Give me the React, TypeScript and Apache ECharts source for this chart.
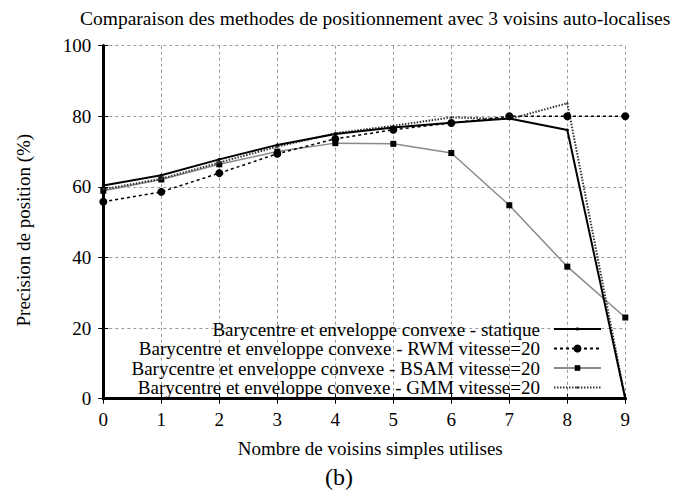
import React, { useEffect, useRef } from "react";
import * as echarts from "echarts";

const xValues = [0, 1, 2, 3, 4, 5, 6, 7, 8, 9];
const statique = [60.4, 63.3, 67.8, 71.9, 75.0, 76.8, 78.2, 79.4, 76.1, 0];
const rwm = [55.8, 58.6, 63.9, 69.4, 73.6, 76.2, 78.1, 80.0, 80.0, 80.0];
const bsam = [58.9, 62.1, 66.4, 70.0, 72.4, 72.2, 69.6, 54.8, 37.4, 23.0];
const gmm = [59.3, 62.3, 66.9, 71.4, 75.2, 77.3, 79.7, 79.2, 83.7, 0];

const seriesNames = [
  "Barycentre et enveloppe convexe - statique",
  "Barycentre et enveloppe convexe - RWM vitesse=20",
  "Barycentre et enveloppe convexe - BSAM vitesse=20",
  "Barycentre et enveloppe convexe - GMM vitesse=20",
];

const titleText = "Comparaison des methodes de positionnement avec 3 voisins auto-localises";
const xName = "Nombre de voisins simples utilises";
const yName = "Precision de position (%)";
const subLabel = "(b)";

const FONT = '"Liberation Serif", "Times New Roman", serif';

function pairs(ys: number[]) {
  return xValues.map((x, i) => [x, ys[i]]);
}

export default function App() {
  const ref = useRef<HTMLDivElement>(null);
  useEffect(() => {
    if (!ref.current) return;
    const chart = echarts.init(ref.current, undefined, { renderer: "svg" });
    const grid = { left: 103.3, right: 58.7, top: 45.7, bottom: 91.3 };
    const axisLineStyle = { show: true, lineStyle: { color: "#000", width: 3 } };
    const tick = { show: true, inside: true, length: 5, lineStyle: { color: "#000", width: 1 } };
    const gridLine = { show: true, lineStyle: { color: "#9a9a9a", width: 1, type: [3, 3] as any } };
    const legendRows = [329, 348.5, 368, 387.5];
    const legendItemH = [4, 10, 7, 3];
    const legends = seriesNames.map((n, i) => ({
      data: [n],
      orient: "horizontal",
      right: 82,
      top: legendRows[i] - 10,
      padding: 0,
      align: "right",
      itemWidth: 47,
      itemHeight: legendItemH[i],
      selectedMode: false,
      textStyle: {
        fontFamily: FONT,
        fontSize: 19,
        color: "#000",
        lineHeight: 20,
        padding: [0, 9, 0, 0],
      },
    }));
    chart.setOption({
      animation: false,
      backgroundColor: "#fff",
      title: {
        text: titleText,
        left: 75,
        top: 3,
        textStyle: { fontFamily: FONT, fontSize: 19.5, fontWeight: "normal", color: "#000" },
      },
      legend: legends,
      grid,
      xAxis: [
        {
          type: "value",
          min: 0,
          max: 9,
          interval: 1,
          axisLine: axisLineStyle,
          axisTick: tick,
          splitLine: gridLine,
          axisLabel: { fontFamily: FONT, fontSize: 19, color: "#000", margin: 11 },
          name: xName,
          nameLocation: "middle",
          nameGap: 40,
          nameTextStyle: { fontFamily: FONT, fontSize: 19, color: "#000", padding: [0, 0, 0, 12] },
        },
        {
          type: "value",
          position: "top",
          min: 0,
          max: 9,
          interval: 1,
          axisLine: axisLineStyle,
          axisTick: tick,
          splitLine: { show: false },
          axisLabel: { show: false },
        },
      ],
      yAxis: [
        {
          type: "value",
          min: 0,
          max: 100,
          interval: 20,
          axisLine: axisLineStyle,
          axisTick: tick,
          splitLine: gridLine,
          axisLabel: { fontFamily: FONT, fontSize: 19, color: "#000", margin: 12 },
          name: yName,
          nameLocation: "middle",
          nameGap: 70,
          nameTextStyle: { fontFamily: FONT, fontSize: 19, color: "#000", padding: [0, 16, 0, 0] },
        },
        {
          type: "value",
          position: "right",
          min: 0,
          max: 100,
          interval: 20,
          axisLine: axisLineStyle,
          axisTick: tick,
          splitLine: { show: false },
          axisLabel: { show: false },
        },
      ],
      graphic: [
        {
          type: "text",
          x: 339,
          y: 465,
          style: { text: subLabel, font: `24px ${FONT}`, fill: "#000", textAlign: "center" },
        },
      ],
      series: [
        {
          name: seriesNames[0],
          type: "line",
          data: pairs(statique),
          symbol: "circle",
          symbolSize: 3,
          lineStyle: { color: "#000", width: 2 },
          itemStyle: { color: "#000" },
          z: 5,
        },
        {
          name: seriesNames[1],
          type: "line",
          data: pairs(rwm),
          symbol: "circle",
          symbolSize: 8,
          lineStyle: { color: "#000", width: 1.5, type: [3, 3] },
          itemStyle: { color: "#000" },
          z: 4,
        },
        {
          name: seriesNames[2],
          type: "line",
          data: pairs(bsam),
          symbol: "rect",
          symbolSize: 6,
          lineStyle: { color: "#8a8a8a", width: 1.5 },
          itemStyle: { color: "#000" },
          z: 3,
        },
        {
          name: seriesNames[3],
          type: "line",
          data: pairs(gmm),
          symbol: "circle",
          symbolSize: 2,
          lineStyle: { color: "#333", width: 2, type: [1.5, 1.5] },
          itemStyle: { color: "#333" },
          z: 4,
        },
      ],
    });
    return () => chart.dispose();
  }, []);
  return (
    <div
      ref={ref}
      style={{ position: "fixed", left: 0, top: 0, width: 684, height: 490, background: "#fff" }}
    />
  );
}
